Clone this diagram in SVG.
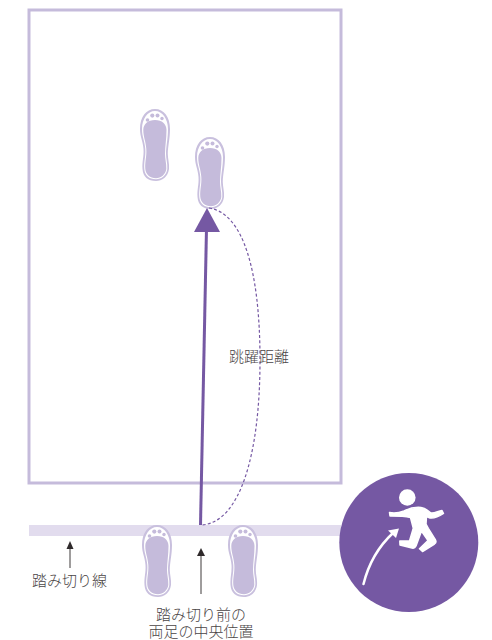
<svg xmlns="http://www.w3.org/2000/svg" width="492" height="640" viewBox="0 0 492 640">
<style>
.t{font-family:"Noto Sans CJK JP","Noto Sans",sans-serif;font-size:15px;fill:#4a4546;font-weight:300}
.thin{stroke:#3f3a3b;stroke-width:1;fill:none}
</style>
<defs>
<symbol id="foot" viewBox="0 0 30 72" width="30" height="72" overflow="visible">
<path fill="#c9c0de" d="M15 0C24 0 30 8 30 20C30 30 27.800 37 27.800 45C27.800 50 29.500 54 29 60C28 68 22 72 16 72C8 72 3 68 2.500 60C2 52 4 48 3.500 40C3 32 0 28 0 20C0 8 6 0 15 0Z"/>
<path fill="#fff" d="M15 2C22.500 2 28 10 28 20C28 30 26 37 26 45C26 50 27.700 54 27.300 60C26.500 66.500 21.500 70.300 16 70.300C9 70.300 4.800 66.500 4.300 60C3.800 52 5.800 48 5.300 40C4.800 32 2 28 2 20C2 10 7.500 2 15 2Z"/>
<path fill="#c5bbdb" d="M15 11C22 11 26.500 15 26.500 21C26.500 30 25 37 25 45C25 50 26.500 54 26.300 60C25.500 65.500 21 69.300 16 69.300C10 69.300 5.800 65.500 5.300 60C4.800 52 6.800 48 6.300 40C5.800 32 3.300 28 3.300 21C3.300 15 8 11 15 11Z"/>
<circle cx="7.500" cy="11" r="1.800" fill="#c5bbdb"/><circle cx="12.300" cy="6.600" r="2.100" fill="#c5bbdb"/><circle cx="17.500" cy="6.600" r="2" fill="#c5bbdb"/><circle cx="22" cy="9.500" r="1.700" fill="#c5bbdb"/>
</symbol>
</defs>
<g id="pit"><rect x="29" y="10" width="312" height="473" fill="#fff" stroke="#c5bbdb" stroke-width="3"/></g>
<g id="takeoff-line"><rect x="29" y="525" width="312" height="11" fill="#e2dcee"/></g>
<g id="foot-landing-left"><use href="#foot" x="140" y="109"/></g>
<g id="foot-landing-right"><use href="#foot" x="195" y="137"/></g>
<g id="foot-start-left"><use href="#foot" x="142" y="525"/></g>
<g id="foot-start-right"><use href="#foot" x="228" y="525"/></g>
<g id="connectors">
<path d="M209 208C243 213 260 270 260 360C260 455 240 522 202 525" fill="none" stroke="#7558a3" stroke-width="1.200" stroke-dasharray="3 2.200"/>
<path d="M200.500 525L206.500 228" fill="none" stroke="#7558a3" stroke-width="3"/>
<path d="M207 208L220 232H194Z" fill="#7558a3"/>
<path d="M70 568V546" class="thin"/><path d="M70 541L73.500 549H66.500Z" fill="#2f2a2b"/>
<path d="M201 594V554" class="thin"/><path d="M201 548L205 556H197Z" fill="#2f2a2b"/>
</g>
<g id="label-distance"><text class="t" x="229" y="362">跳躍距離</text></g>
<g id="label-line"><text class="t" x="32" y="586">踏み切り線</text></g>
<g id="label-center"><text class="t" x="201" y="620" text-anchor="middle">踏み切り前の</text><text class="t" x="201" y="637" text-anchor="middle">両足の中央位置</text></g>
<g id="jump-icon">
<circle cx="408.800" cy="542.500" r="69.500" fill="#7558a3"/>
<circle cx="407.300" cy="497.500" r="8.300" fill="#fff"/>
<path fill="#fff" stroke="#fff" stroke-width="1.500" stroke-linejoin="round" d="M389.500 512.500C395 513.500 400 512.500 404 511C409 508.500 416 507 421 507.500C426 508 428 511 431 513C435 513.500 438 511 442 510.500L443.500 513.500C439 516.500 434 518.500 430 518L426.500 516.500L426 524L428.300 528.300L435.500 540C436.500 542 436 543 434.500 544L422.500 551.500L419.500 548.800L428 540.500L421.500 531L416 546C415 548 414 548.500 412 548L400 545L399.800 541L409.500 541L413.300 528.300L410.500 517.500C404 516 396 516 390 516Z"/>
<path d="M363.500 584C369 562 379 546 393 533" fill="none" stroke="#fff" stroke-width="2.500" stroke-linecap="round"/>
<path d="M399 528.500L396 538L388 530.500Z" fill="#fff"/>
</g>
</svg>
